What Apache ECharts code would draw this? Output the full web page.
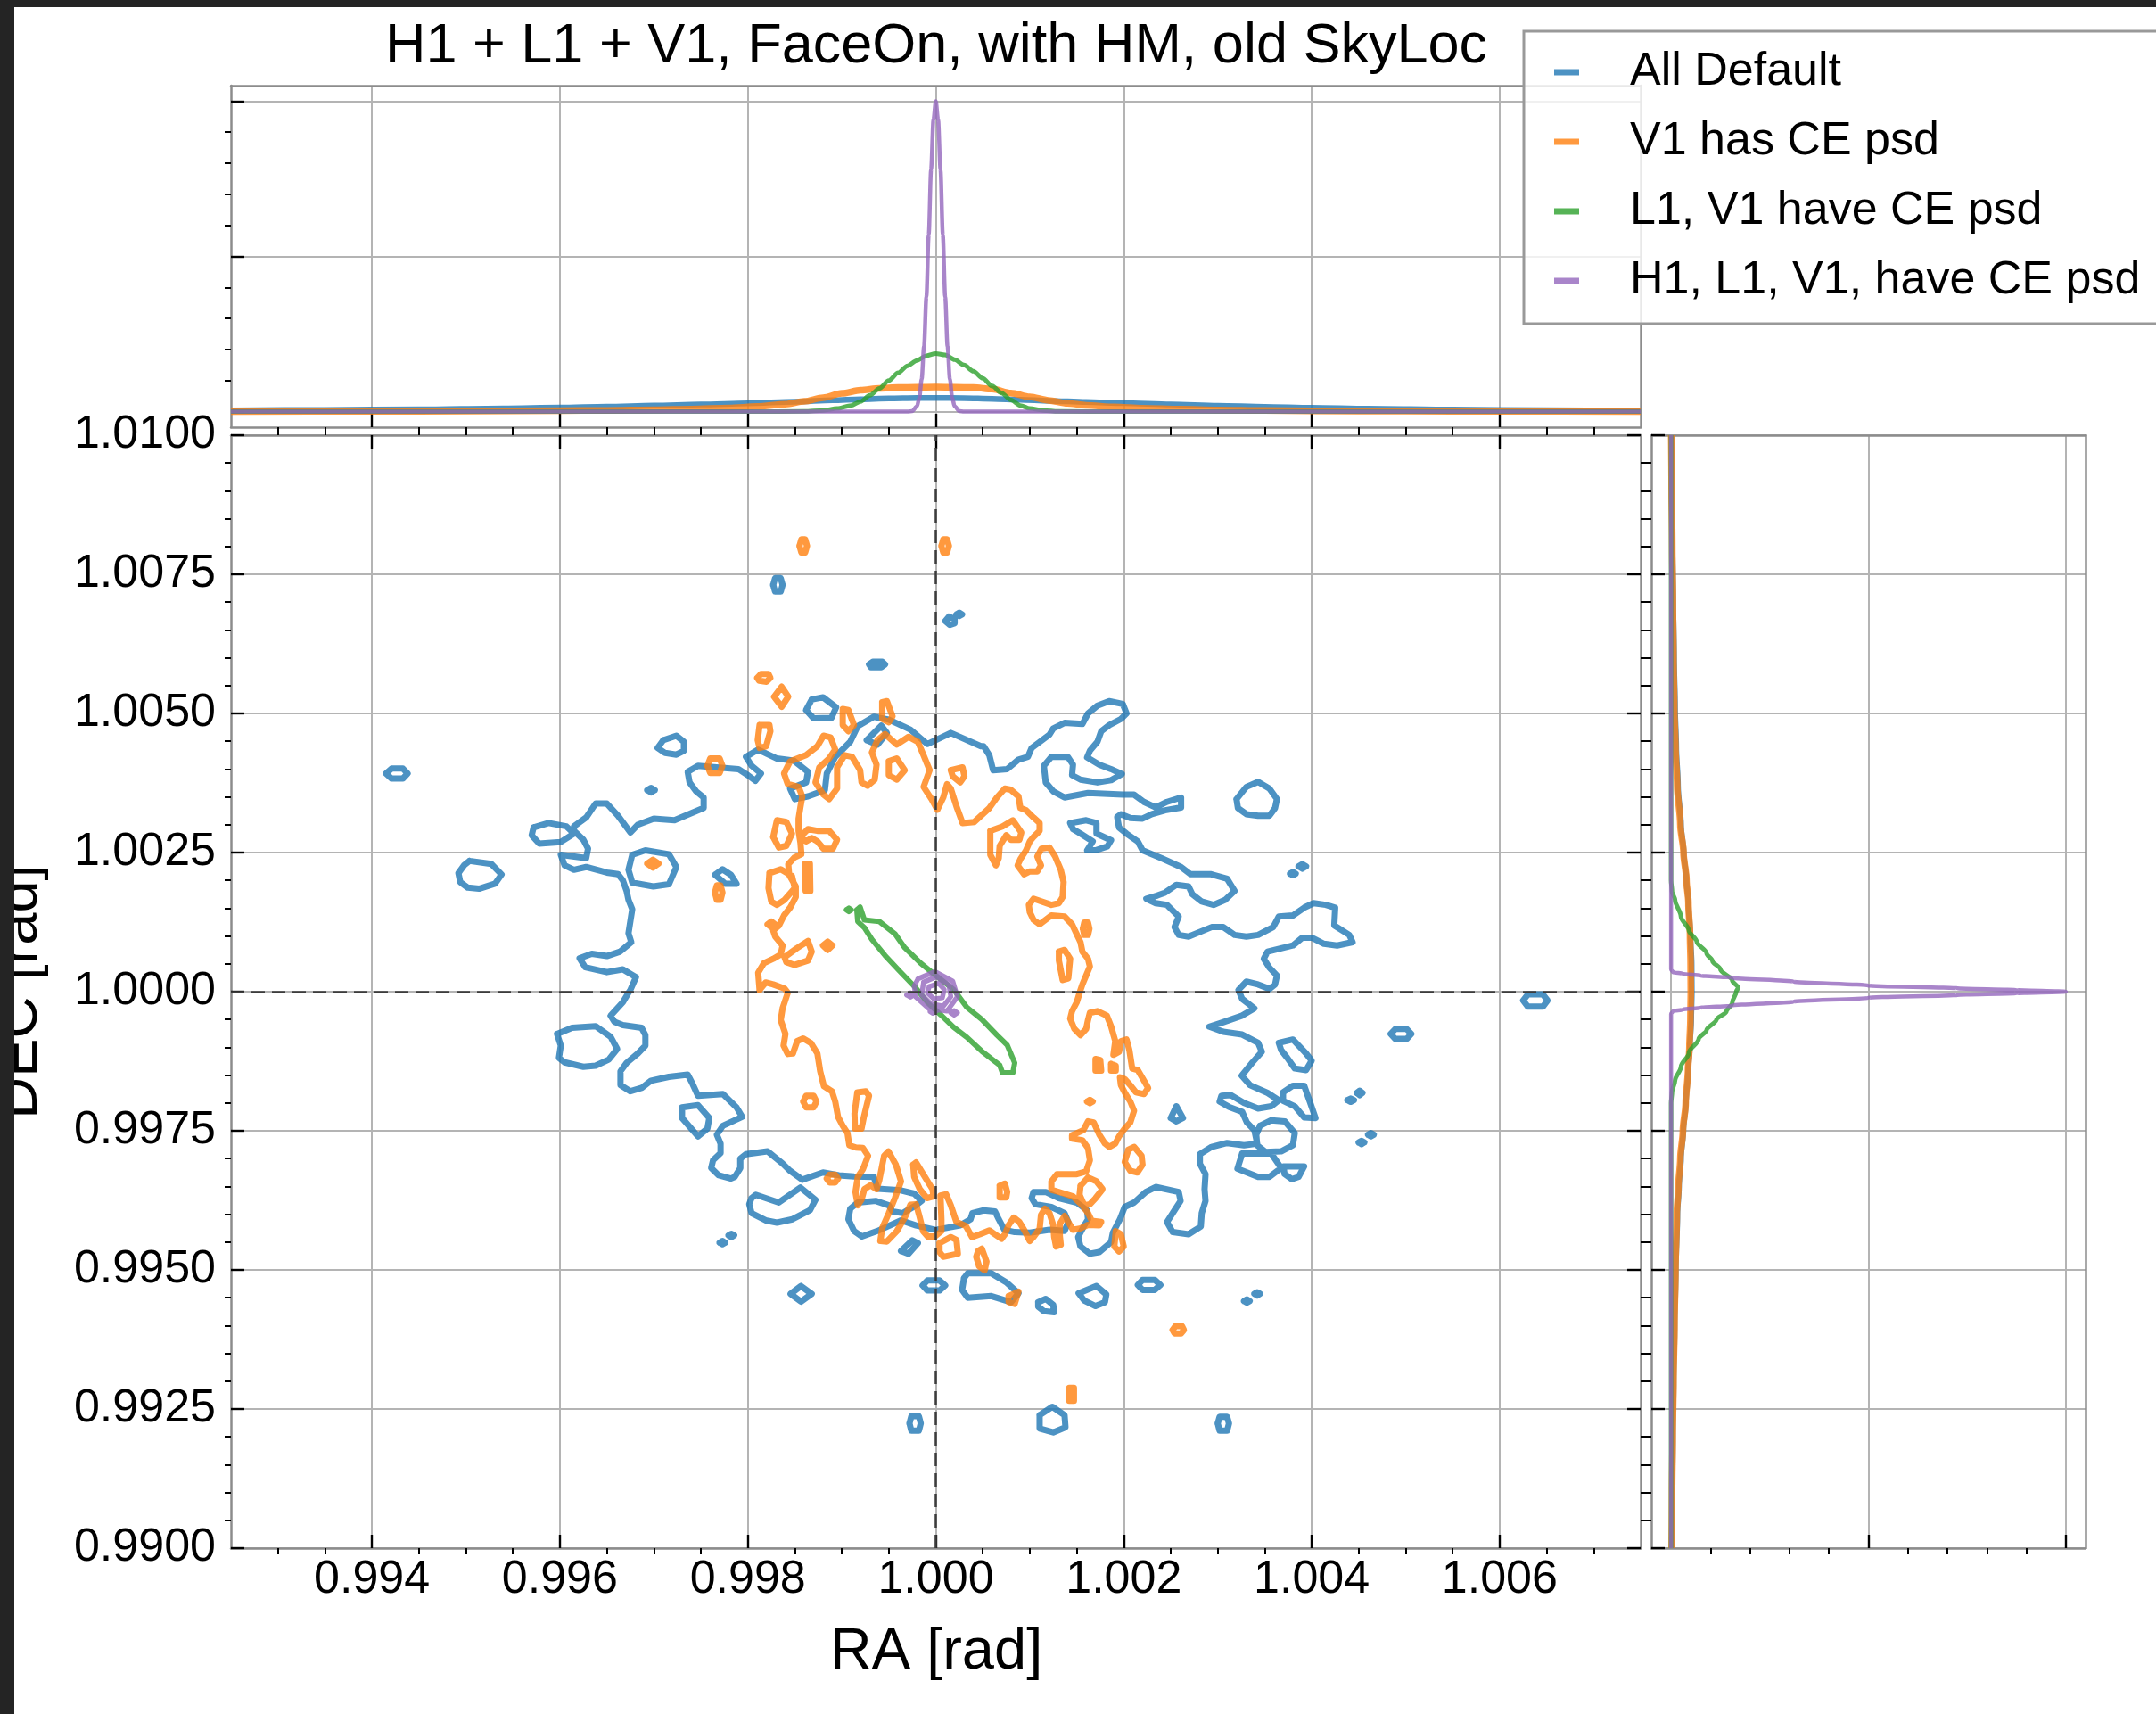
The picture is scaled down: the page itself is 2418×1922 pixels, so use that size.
<!DOCTYPE html>
<html>
<head>
<meta charset="utf-8">
<script src="https://cdn.jsdelivr.net/npm/echarts@6/dist/echarts.min.js"></script>
<style>
  html, body { margin: 0; padding: 0; background: #ffffff; }
  #chart { width: 2418px; height: 1922px; }
</style>
</head>
<body>
<div id="chart"></div>
<script>
// ---------------------------------------------------------------------------
// Sky-localisation posterior: RA/DEC 90% contours for four detector-network
// configurations, with the 1-D marginal densities above (RA) and to the right (DEC).
// ---------------------------------------------------------------------------

const TITLE = 'H1 + L1 + V1, FaceOn, with HM, old SkyLoc';
const SERIES_NAMES = ['All Default', 'V1 has CE psd', 'L1, V1 have CE psd', 'H1, L1, V1, have CE psd'];
const SERIES_COLORS = ['rgba(31,119,180,0.8)', 'rgba(255,127,14,0.8)', 'rgba(44,160,44,0.8)', 'rgba(148,103,189,0.8)'];

// axis ticks
const RA_TICKS = [0.994, 0.996, 0.998, 1.000, 1.002, 1.004, 1.006];
const DEC_TICKS = [0.9900, 0.9925, 0.9950, 0.9975, 1.0000, 1.0025, 1.0050, 1.0075, 1.0100];
const DENSITY_TICKS = [0, 1, 2];
const RA_RANGE = [0.9925, 1.0075];
const DEC_RANGE = [0.9900, 1.0100];
const DENSITY_RANGE = [-0.1, 2.1];

// injected sky position (rad)
const INJ_RA = 1.0;
const INJ_DEC = 1.0;
// contour / marginal coordinates below are offsets from the injection, in units of 1e-4 rad
const OFFSET_UNIT = 1e-4;

// ---- contours: "All Default" ------------------------------------------------
const BLUE_MAIN = [
  [-32.5,0.3],[-31.9,2.6],[-33.3,4.0],[-35.0,3.5],[-37.3,4.4],[-37.9,6.0],[-36.6,6.8],[-35.0,6.4],[-33.6,7.2],[-32.4,8.9],
  [-32.7,10.5],[-32.3,14.8],[-32.7,16.5],[-32.9,18.1],[-33.3,20.0],[-33.8,21.1],[-35.0,21.4],[-37.2,22.4],[-38.5,21.9],[-39.5,22.7],
  [-39.9,24.6],[-37.2,24.0],[-37.0,25.7],[-37.5,27.3],[-38.5,28.9],[-38.5,29.7],[-37.2,31.3],[-36.2,33.8],[-35.0,33.8],[-33.8,31.6],
  [-32.5,28.6],[-31.7,30.0],[-30.0,31.1],[-27.8,30.8],[-24.7,33.0],[-24.7,34.9],[-25.5,36.0],[-26.2,37.6],[-26.4,39.5],[-25.3,40.6],
  [-23.9,40.4],[-21.0,40.0],[-20.0,38.9],[-19.2,37.9],[-18.6,39.2],[-19.6,40.6],[-20.2,42.2],[-18.9,43.5],[-16.9,41.9],[-15.1,41.5],
  [-13.6,39.5],[-13.8,37.6],[-15.5,36.5],[-15.0,34.6],[-13.6,35.1],[-11.8,36.2],[-11.6,39.2],[-10.7,42.2],[-9.1,44.9],[-8.3,47.7],
  [-6.6,49.4],[-5.0,48.9],[-2.7,47.1],[-0.9,44.5],[1.6,46.5],[4.8,44.1],
  [5.1,44.1],[5.7,42.5],[6.1,39.8],[7.6,40.0],[8.8,41.7],[9.8,42.2],[10.2,43.8],[12.1,46.2],[12.5,47.3],[13.7,48.3],
  [15.6,48.1],[16.2,50.0],[17.2,51.4],[18.45,52.2],[19.9,51.7],[20.3,50.0],[19.7,49.0],[18.45,47.9],[17.6,46.8],[17.2,44.9],
  [16.4,43.3],[16.1,42.1],[17.4,40.8],[18.65,40.0],[19.8,39.1],[18.65,38.0],[17.2,37.6],[15.4,38.1],[14.5,38.9],[14.6,40.8],
  [14.05,42.2],[12.3,42.2],[11.5,40.6],[11.7,37.6],[12.5,36.0],[13.7,34.9],[16.2,35.7],[19.9,35.4],[21.1,35.4],[22.15,34.1],
  [23.4,33.1],[24.6,34.1],[26.1,34.9],[26.1,33.1],[24.4,32.6],[23.0,31.9],[22.0,31.1],[20.7,31.2],[19.7,31.9],[19.3,31.4],
  [19.5,29.5],[20.3,28.4],[21.5,27.0],[22.0,25.4],[24.0,24.0],[26.1,22.4],[27.1,21.1],[29.3,21.1],[31.0,20.3],[31.8,18.1],
  [30.8,16.5],[29.55,15.6],[28.3,16.2],[27.3,17.5],[26.9,18.9],[25.6,19.2],[24.4,17.8],[23.6,17.3],[22.4,16.7],[23.4,15.9],
  [24.6,15.6],[25.85,13.5],[25.4,11.6],[25.85,10.2],[26.9,9.9],[29.35,11.6],[30.6,11.6],[31.8,10.2],[33.05,9.9],[34.3,10.2],
  [35.9,11.6],[36.5,13.5],[38.0,13.7],[39.2,15.1],[40.2,15.9],[41.5,15.6],[42.5,15.1],[42.4,11.9],[44.0,10.2],[44.35,8.9],
  [42.7,8.3],[41.3,8.6],[40.0,9.7],[39.0,9.7],[38.0,8.3],[35.3,7.2],[34.9,5.9],[35.5,4.3],[36.3,2.9],[36.1,1.3],
  [35.5,0.5],[34.3,1.3],[33.05,1.8],[32.2,0.3],
  [32.6,-1.3],[33.9,-3.0],[32.6,-4.3],[30.2,-5.7],[29.1,-6.3],[30.6,-7.2],[32.6,-7.7],[34.3,-9.2],[34.7,-10.8],[33.7,-12.7],
  [32.55,-15.1],[33.45,-16.8],[35.3,-18.2],[36.5,-19.5],[35.7,-20.6],[34.3,-21.0],[32.8,-20.0],[31.4,-18.6],[30.4,-18.7],[30.2,-19.75],
  [31.2,-20.7],[32.6,-21.6],[33.1,-23.5],[33.9,-24.9],[34.2,-27.3],[32.8,-27.6],[31.0,-27.2],[29.35,-27.9],[28.1,-29.2],[28.1,-30.9],
  [28.7,-32.8],[28.6,-35.5],[28.7,-37.6],[28.3,-39.8],[28.2,-42.2],[26.9,-43.6],[25.2,-43.2],[24.6,-41.4],[25.4,-39.3],[26.05,-37.6],
  [25.85,-36.0],[23.4,-35.1],[22.35,-36.0],[21.1,-37.9],[20.1,-38.7],[19.6,-40.9],[18.85,-43.3],[18.65,-45.0],[17.4,-46.8],[16.4,-47.1],
  [15.4,-45.8],[15.15,-44.1],[15.8,-42.0],[16.2,-40.9],[16.1,-39.3],[15.0,-37.9],[13.1,-37.1],[11.7,-36.0],[10.4,-36.0],[10.2,-37.1],
  [10.6,-38.2],[12.3,-38.7],[13.7,-39.8],[14.1,-41.4],[13.7,-43.0],[12.1,-42.8],[10.0,-43.3],[8.4,-43.2],[7.3,-42.8],[6.7,-40.9],
  [6.3,-39.5],[5.1,-39.3],[3.9,-39.8],
  [3.7,-40.9],[2.6,-42.0],[-0.03,-42.8],[-2.1,-42.0],[-3.7,-41.1],[-6.2,-43.0],[-7.85,-44.0],[-8.7,-43.0],[-9.3,-40.9],[-9.1,-39.0],
  [-8.3,-37.9],[-6.4,-37.6],[-5.0,-38.4],[-4.6,-39.5],[-3.5,-39.8],[-2.1,-38.4],[-1.5,-37.6],[-2.3,-36.3],[-3.7,-35.7],[-6.2,-35.4],
  [-6.6,-33.3],[-8.7,-33.2],[-10.3,-33.0],[-12.0,-32.5],[-14.2,-33.8],[-15.5,-32.2],[-16.3,-30.9],[-17.9,-28.7],[-20.2,-29.2],[-20.8,-30.0],
  [-20.8,-31.7],[-21.4,-33.3],[-21.8,-33.6],[-23.1,-33.0],[-23.9,-31.7],[-23.7,-30.3],[-22.9,-29.0],[-22.9,-27.3],[-23.3,-25.7],[-22.65,-24.1],
  [-20.6,-22.5],[-21.2,-20.8],[-22.65,-18.4],[-25.3,-18.7],[-25.9,-16.5],[-26.4,-14.9],[-28.4,-15.3],[-30.3,-16.0],[-31.3,-17.3],[-32.5,-17.9],
  [-33.55,-16.8],[-33.55,-14.3],[-32.9,-12.8],[-31.7,-11.1],[-30.9,-9.7],[-30.9,-7.8],[-31.3,-6.5],[-33.3,-6.0],[-34.2,-5.4],[-34.6,-4.3],
  [-33.3,-1.9],[-32.7,-0.2]
];
const BLUE_ISLANDS = [
  [[-58.5,39.2],[-57.9,40.1],[-56.7,40.1],[-56.2,39.2],[-56.7,38.3],[-57.9,38.3]],
  [[-49.6,23.5],[-47.3,22.95],[-46.2,21.06],[-46.9,19.4],[-48.6,18.5],[-49.8,18.7],[-50.6,19.7],[-50.8,21.3],[-50.2,22.7]],
  [[-29.0,45.2],[-27.6,46.0],[-26.8,44.9],[-26.8,43.3],[-27.6,42.6],[-28.8,42.9],[-29.6,43.8]],
  [[-30.7,36.2],[-30.3,36.6],[-29.9,36.2],[-30.3,35.8]],
  [[-17.3,73.1],[-17.1,74.3],[-16.5,74.3],[-16.3,73.1],[-16.5,71.9],[-17.1,71.9]],
  [[1.0,66.6],[1.4,67.4],[2.0,67.0],[2.0,66.2],[1.5,65.9]],
  [[2.2,67.8],[2.5,68.1],[2.8,67.8],[2.5,67.5]],
  [[-7.1,58.8],[-6.7,59.3],[-5.7,59.3],[-5.4,58.8],[-5.8,58.3],[-6.9,58.3]],
  [[-13.2,52.5],[-12.0,52.9],[-10.6,51.1],[-11.1,49.2],[-13.0,49.1],[-13.8,50.6]],
  [[-7.35,45.2],[-5.8,47.8],[-5.2,46.5],[-6.2,44.4]],
  [[-23.5,21.0],[-22.7,22.0],[-21.8,21.0],[-21.2,19.4],[-22.4,19.4]],
  [[-42.8,29.5],[-41.2,30.3],[-39.3,29.7],[-38.5,28.4],[-39.9,26.9],[-42.2,26.6],[-43.0,28.1]],
  [[-32.3,24.6],[-30.9,25.4],[-28.4,24.7],[-27.6,22.4],[-28.4,19.3],[-30.05,18.9],[-32.3,19.6],[-32.7,21.9]],
  [[14.3,30.3],[16.0,30.8],[17.1,30.3],[17.1,28.4],[18.65,27.2],[18.25,26.1],[17.0,25.4],[16.1,25.4],[16.7,27.0],[15.4,28.4],[14.6,29.2]],
  [[32.0,34.6],[33.05,36.8],[34.3,37.7],[35.5,36.5],[36.3,34.6],[36.1,33.0],[35.5,31.6],[34.3,31.6],[33.05,31.9],[32.15,33.0]],
  [[38.6,22.5],[39.0,22.9],[39.4,22.5],[39.0,22.1]],
  [[37.7,21.2],[38.0,21.5],[38.3,21.2],[38.0,20.9]],
  [[36.5,-9.2],[38.0,-8.6],[39.4,-11.1],[40.0,-12.4],[39.4,-14.1],[38.2,-13.8],[37.4,-11.9],[36.75,-10.5]],
  [[36.95,-18.1],[38.0,-16.9],[39.2,-16.9],[39.8,-19.75],[40.4,-22.7],[39.2,-22.6],[38.2,-20.6],[36.95,-19.6]],
  [[34.5,-24.1],[35.7,-23.1],[37.15,-23.3],[38.2,-25.4],[38.0,-27.6],[36.75,-28.7],[35.1,-28.8],[34.2,-27.6],[34.1,-25.7]],
  [[32.6,-29.1],[35.7,-29.1],[36.75,-31.7],[35.5,-33.3],[34.3,-33.3],[32.1,-31.8]],
  [[37.0,-31.4],[39.2,-31.4],[38.6,-33.3],[37.9,-33.7],[37.1,-32.75]],
  [[25.6,-20.6],[26.3,-22.7],[25.6,-23.3],[25.0,-22.7]],
  [[48.4,-7.6],[48.9,-6.7],[50.1,-6.7],[50.6,-7.6],[50.1,-8.5],[48.9,-8.5]],
  [[62.5,-1.6],[63.0,-0.5],[64.6,-0.5],[65.1,-1.6],[64.6,-2.7],[63.0,-2.7]],
  [[44.8,-18.2],[45.1,-17.8],[45.4,-18.2],[45.1,-18.6]],
  [[43.8,-19.5],[44.15,-19.2],[44.5,-19.5],[44.15,-19.8]],
  [[46.0,-25.7],[46.3,-25.4],[46.6,-25.7],[46.3,-26.0]],
  [[45.0,-27.1],[45.3,-26.8],[45.6,-27.1],[45.3,-27.4]],
  [[21.5,-52.7],[22.0,-51.8],[23.3,-51.8],[23.9,-52.7],[23.3,-53.6],[22.0,-53.6]],
  [[15.2,-54.2],[17.1,-52.9],[18.15,-54.4],[18.0,-55.8],[17.0,-56.5],[15.8,-55.5]],
  [[10.9,-55.8],[11.7,-55.2],[12.5,-56.3],[12.6,-57.6],[11.5,-57.4],[10.9,-56.6]],
  [[33.9,-54.3],[34.2,-54.0],[34.5,-54.3],[34.2,-54.6]],
  [[32.8,-55.6],[33.1,-55.3],[33.4,-55.6],[33.1,-55.9]],
  [[11.05,-76.1],[12.4,-74.6],[13.7,-76.1],[13.8,-78.3],[12.5,-79.2],[11.05,-78.5]],
  [[30.0,-77.6],[30.2,-76.4],[31.0,-76.4],[31.2,-77.6],[31.0,-78.9],[30.2,-78.9]],
  [[3.0,-51.5],[3.4,-50.6],[5.9,-50.6],[7.55,-52.3],[8.8,-54.2],[8.0,-55.8],[5.9,-54.7],[3.4,-55.0],[2.8,-53.6]],
  [[-40.3,-7.6],[-38.7,-6.5],[-36.2,-6.2],[-34.6,-8.1],[-33.9,-10.3],[-34.8,-12.2],[-36.2,-13.3],[-37.5,-13.5],[-39.5,-12.7],[-40.1,-11.9],[-39.9,-9.7]],
  [[-27.0,-20.8],[-25.3,-20.4],[-24.1,-22.7],[-24.3,-24.6],[-25.3,-26.0],[-27.0,-22.7]],
  [[-19.6,-37.1],[-19.15,-36.5],[-16.7,-37.9],[-14.4,-35.2],[-12.8,-37.4],[-13.4,-39.3],[-15.25,-40.9],[-16.9,-41.5],[-18.1,-41.1],[-19.6,-39.8],[-19.85,-38.2]],
  [[-23.0,-45.1],[-22.7,-44.8],[-22.4,-45.1],[-22.7,-45.4]],
  [[-22.05,-43.8],[-21.75,-43.5],[-21.45,-43.8],[-21.75,-44.1]],
  [[-14.35,-52.9],[-13.2,-54.3],[-14.35,-55.7],[-15.45,-54.3]],
  [[-1.4,-52.8],[-0.9,-51.9],[0.4,-51.9],[1.0,-52.8],[0.4,-53.7],[-0.9,-53.7]],
  [[-2.8,-77.6],[-2.6,-76.3],[-1.8,-76.3],[-1.6,-77.6],[-1.8,-78.9],[-2.6,-78.9]],
  [[-3.7,-46.6],[-2.5,-44.7],[-1.9,-45.2],[-2.9,-47.1]]
];

// ---- contours: "V1 has CE psd" -------------------------------------------------
const ORANGE_MAIN = [
  [-18.75,0.3],[-18.9,3.4],[-18.3,5.1],[-17.3,5.9],[-16.5,6.7],[-16.3,8.3],[-17.1,9.95],[-17.3,11.0],[-16.7,11.85],[-16.15,13.7],
  [-15.5,15.1],[-14.9,17.0],[-14.9,18.9],[-15.6,21.0],[-15.7,22.9],[-15.05,24.1],[-14.3,24.7],[-14.4,26.75],[-14.6,28.9],[-14.6,31.1],
  [-14.4,33.2],[-14.2,35.1],[-14.6,36.8],[-15.75,37.3],[-16.15,39.2],[-15.5,41.4],[-13.8,42.5],[-12.6,44.1],[-11.95,46.0],[-11.2,45.7],
  [-10.7,43.5],[-11.35,41.9],[-12.4,40.3],[-12.8,37.6],[-11.95,35.4],[-11.35,34.6],[-10.5,36.5],[-10.5,40.3],[-9.7,42.5],[-8.9,42.2],
  [-8.05,39.8],[-7.9,37.6],[-7.25,37.0],[-6.5,38.1],[-6.3,40.8],[-6.8,43.0],[-6.2,45.2],[-5.4,46.3],[-4.15,44.4],[-2.9,45.8],
  [-1.9,44.9],[-1.3,42.5],[-0.65,39.8],[-1.3,36.8],[-0.45,34.6],[0.17,32.7],[0.8,34.9],[1.2,37.3],[1.6,36.5],[2.2,33.3],
  [2.85,30.3],[4.1,30.5],
  [5.7,33.0],[6.5,34.9],[7.35,36.5],[7.96,36.3],[8.8,35.1],[9.0,33.0],[9.6,32.6],[10.4,31.3],[11.05,30.3],[11.05,28.9],
  [10.4,27.8],[10.0,27.0],[9.6,25.4],[9.0,23.8],[8.7,22.7],[9.4,21.1],[10.0,21.6],[10.8,21.6],[11.2,22.7],[10.8,24.3],
  [11.25,25.7],[12.1,25.9],[12.7,24.3],[13.3,21.9],[13.6,19.7],[13.5,17.0],[13.1,15.9],[12.3,15.6],[10.4,16.7],[9.9,15.6],
  [10.0,14.3],[10.4,12.9],[11.05,12.1],[12.3,13.7],[13.7,13.5],[14.5,12.1],[14.95,10.5],[15.4,8.9],[15.6,7.2],[16.2,5.9],
  [16.4,4.5],[16.0,2.9],[15.6,1.3],[15.4,0.3],
  [15.0,-1.9],[14.5,-3.5],[14.3,-4.85],[14.75,-6.7],[15.4,-7.8],[16.0,-6.7],[16.2,-5.1],[16.4,-3.8],[17.2,-3.5],[18.2,-4.3],
  [18.65,-6.2],[19.1,-8.9],[18.9,-11.35],[19.5,-10.8],[19.7,-8.9],[20.3,-8.6],[20.6,-10.5],[20.9,-13.8],[21.5,-14.1],[22.15,-16.0],
  [22.6,-17.3],[22.15,-18.4],[21.3,-18.1],[20.7,-16.8],[20.1,-15.7],[19.6,-15.4],[19.7,-16.8],[20.2,-18.4],[20.7,-19.75],[21.1,-21.4],
  [20.7,-23.5],[20.1,-24.6],[19.5,-26.0],[19.1,-27.3],[18.45,-27.9],[18.0,-27.3],[17.4,-25.7],[16.8,-23.5],[16.2,-23.3],[15.7,-24.9],
  [14.5,-25.8],[14.5,-26.4],[15.6,-26.7],[16.2,-28.1],[16.4,-30.3],[16.0,-32.3],[15.0,-32.8],[12.9,-32.8],[12.3,-34.1],[12.3,-35.6],
  [13.3,-36.1],[14.6,-36.8],[15.6,-38.4],[16.2,-39.8],[16.6,-41.2],[17.6,-41.4],[17.4,-42.0],[16.2,-41.9],[15.3,-42.6],[14.6,-42.8],
  [14.1,-41.4],[13.7,-40.3],[13.2,-41.7],[13.2,-43.9],[13.3,-45.5],[12.8,-45.8],[12.6,-44.1],[12.5,-41.95],[12.1,-39.8],[11.6,-39.0],
  [11.2,-40.1],[11.05,-42.6],[10.4,-44.1],[10.0,-44.8],[9.4,-42.8],[8.9,-41.4],[8.3,-40.6],[7.75,-41.95],[7.35,-43.6],[7.0,-44.4],
  [6.3,-43.6],[5.7,-42.9],[4.7,-43.6],[3.85,-44.1],
  [3.2,-42.1],[2.2,-41.4],[1.6,-38.4],[1.1,-36.4],[0.5,-36.65],[0.6,-40.9],[0.6,-43.05],[-0.1,-44.0],[-0.85,-44.0],[-1.35,-43.05],
  [-1.75,-40.3],[-2.1,-38.2],[-2.7,-38.3],[-3.3,-40.6],[-4.15,-43.05],[-5.2,-44.9],[-5.9,-44.8],[-5.7,-42.5],[-5.0,-39.8],[-4.35,-37.1],
  [-3.7,-34.1],[-4.25,-31.1],[-5.05,-28.7],[-5.5,-29.5],[-6.0,-33.8],[-6.3,-35.5],[-6.95,-34.8],[-7.6,-35.5],[-7.9,-37.4],[-8.3,-38.4],
  [-8.55,-36.0],[-8.3,-33.3],[-7.75,-31.9],[-7.2,-29.5],[-7.75,-28.1],[-8.5,-28.0],[-9.2,-27.6],[-9.4,-25.4],[-9.9,-24.1],[-10.4,-22.5],
  [-10.7,-19.75],[-11.05,-17.9],[-11.9,-17.0],[-12.3,-14.3],[-12.6,-11.1],[-13.3,-9.2],[-14.1,-8.4],[-14.75,-8.9],[-15.2,-11.1],[-15.75,-11.2],
  [-16.2,-9.7],[-16.0,-7.6],[-16.5,-5.1],[-16.3,-3.0],[-15.75,-0.2],[-16.1,0.57],[-17.3,1.3],[-18.1,1.65]
];
const ORANGE_ISLANDS = [
  [[-14.5,80.1],[-14.3,81.3],[-13.9,81.3],[-13.7,80.1],[-13.9,78.9],[-14.3,78.9]],
  [[0.6,80.1],[0.8,81.3],[1.2,81.3],[1.4,80.1],[1.2,78.9],[0.8,78.9]],
  [[-19.0,56.4],[-18.6,57.1],[-17.8,57.1],[-17.6,56.4],[-18.0,55.7],[-18.8,55.9]],
  [[-17.2,53.0],[-16.4,54.8],[-15.7,53.0],[-16.4,51.2]],
  [[-9.9,50.8],[-9.3,50.6],[-8.7,47.9],[-9.3,46.8],[-9.9,47.9]],
  [[-5.7,52.0],[-5.2,52.2],[-4.6,49.5],[-5.0,48.4],[-5.7,49.0]],
  [[-18.75,47.9],[-17.7,47.9],[-17.6,46.8],[-18.05,44.1],[-18.75,43.8],[-18.95,45.2]],
  [[-24.3,40.6],[-24.0,41.9],[-23.0,41.9],[-22.7,40.6],[-23.0,39.3],[-24.0,39.3]],
  [[-5.0,41.4],[-4.15,41.9],[-3.3,39.8],[-4.15,38.1],[-5.0,38.9]],
  [[1.6,39.8],[2.85,40.3],[3.05,38.7],[2.6,37.6],[1.8,38.7]],
  [[-17.3,27.8],[-16.9,30.8],[-15.9,30.5],[-15.3,28.4],[-15.9,26.2],[-16.7,25.9]],
  [[-14.4,27.8],[-13.6,29.2],[-12.6,28.9],[-11.35,28.9],[-10.5,27.3],[-10.95,25.7],[-11.95,25.7],[-12.6,27.0],[-13.2,27.6],[-13.8,27.0]],
  [[-30.7,23.0],[-30.1,23.7],[-29.5,23.0],[-30.1,22.3]],
  [[-23.5,17.8],[-23.3,19.1],[-22.9,19.1],[-22.7,17.8],[-22.9,16.5],[-23.3,16.5]],
  [[-17.9,12.1],[-17.5,12.6],[-17.1,12.1],[-17.5,11.6]],
  [[-13.9,23.0],[-13.4,23.0],[-13.35,18.1],[-13.85,18.1]],
  [[-17.7,21.3],[-16.5,22.0],[-15.3,20.8],[-15.0,18.6],[-16.1,16.5],[-16.9,15.6],[-17.5,16.2],[-17.8,18.6]],
  [[-16.1,6.2],[-14.8,7.8],[-13.6,9.1],[-13.2,7.2],[-13.6,5.6],[-15.05,4.8],[-15.9,5.3]],
  [[-12.0,8.3],[-11.5,9.0],[-11.0,8.3],[-11.5,7.5]],
  [[5.8,28.9],[7.1,29.7],[8.2,30.8],[9.1,28.6],[8.9,27.3],[8.0,27.3],[7.5,28.1],[6.8,26.2],[6.7,24.0],[6.4,22.7],[5.8,24.6]],
  [[15.65,11.3],[15.8,12.4],[16.2,12.4],[16.35,11.3],[16.2,10.2],[15.8,10.2]],
  [[13.1,7.2],[13.7,7.5],[14.3,5.9],[14.1,2.4],[13.5,2.1],[13.1,5.6]],
  [[19.15,-43.05],[19.7,-43.6],[20.0,-45.8],[19.5,-46.7],[19.0,-45.8]],
  [[4.5,-46.6],[4.9,-46.2],[5.4,-48.5],[5.2,-50.1],[4.6,-49.3],[4.3,-47.65]],
  [[6.8,-34.9],[7.35,-34.5],[7.6,-36.0],[7.5,-36.98],[6.8,-36.98]],
  [[17.0,-12.1],[17.5,-12.3],[17.6,-14.2],[17.0,-14.2]],
  [[18.65,-13.0],[19.15,-13.3],[19.15,-14.2],[18.65,-14.2]],
  [[16.1,-19.75],[16.4,-19.45],[16.7,-19.75],[16.4,-20.05]],
  [[20.5,-28.4],[21.1,-27.9],[21.9,-29.5],[22.0,-31.1],[21.45,-32.5],[20.7,-32.2],[20.1,-30.6]],
  [[15.4,-34.9],[16.2,-33.4],[17.1,-34.1],[17.75,-35.5],[17.0,-37.1],[16.4,-38.2],[15.8,-38.4],[15.3,-36.5]],
  [[25.2,-60.8],[25.5,-60.1],[26.2,-60.1],[26.4,-60.8],[26.1,-61.4],[25.4,-61.4]],
  [[14.2,-71.2],[14.7,-71.2],[14.7,-73.5],[14.2,-73.5]],
  [[7.75,-54.7],[8.8,-53.9],[8.4,-56.1],[7.75,-55.8]],
  [[-14.1,-19.75],[-13.8,-18.7],[-13.0,-18.7],[-12.7,-19.75],[-13.0,-20.8],[-13.8,-20.8]],
  [[-11.6,-33.6],[-11.3,-32.9],[-10.7,-32.9],[-10.4,-33.6],[-10.7,-34.3],[-11.3,-34.3]],
  [[-8.35,-18.1],[-7.45,-17.9],[-7.1,-18.7],[-7.65,-22.5],[-7.9,-24.6],[-8.6,-24.6],[-8.65,-21.9]],
  [[-2.4,-31.1],[-2.1,-30.7],[-1.05,-33.6],[-0.35,-35.5],[-0.24,-36.8],[-0.94,-37.1],[-1.7,-35.5],[-2.3,-33.3]],
  [[0.4,-45.2],[1.6,-44.1],[2.2,-44.6],[2.35,-47.1],[0.8,-47.65],[0.4,-46.8]]
];

// ---- contours: "L1, V1 have CE psd" --------------------------------------------
const GREEN_LOOPS = [
  [[-8.4,14.7],[-8.05,15.2],[-7.6,12.9],[-6.0,12.6],[-4.35,10.4],[-3.3,7.9],[-1.6,5.1],[0.0,2.9],[1.9,0.4],[3.3,-2.8],
   [4.9,-5.0],[6.5,-7.8],[7.6,-9.6],[8.4,-12.8],[8.2,-14.6],[7.1,-14.6],[6.8,-13.2],[4.9,-10.7],[3.3,-8.2],[1.9,-6.4],
   [0.55,-4.2],[-0.8,-2.1],[-2.2,0.8],[-3.8,3.6],[-5.4,6.5],[-6.8,9.4],[-7.6,11.5],[-8.3,12.6]],
  [[-9.5,14.7],[-9.25,15.0],[-9.0,14.7],[-9.25,14.4]]
];

// ---- contours: "H1, L1, V1, have CE psd" ---------------------------------------
const PURPLE_LOOPS = [
  [[-1.9,2.3],[-0.1,3.6],[1.8,1.9],[2.3,-0.9],[1.2,-3.5],[-0.7,-3.1],[-2.1,-1.0],[-2.3,1.0]],
  [[-1.3,1.7],[0.1,2.7],[1.4,1.2],[1.6,-0.9],[0.8,-2.6],[-0.5,-2.2],[-1.5,-0.6]],
  [[-0.7,0.9],[0.3,1.5],[0.9,0.4],[0.7,-1.1],[-0.2,-1.3],[-0.9,-0.2]],
  [[-3.1,-0.6],[-2.7,-0.2],[-2.3,-0.6],[-2.7,-1.0]],
  [[1.6,-3.8],[1.95,-3.4],[2.3,-3.8],[1.95,-4.2]],
  [[-0.6,-3.6],[-0.3,-3.3],[0.0,-3.6],[-0.3,-3.9]]
];

// ---- RA marginal densities: [RA offset, density] --------------------------------
const BLUE_RA = [[-75,0.008],[-65,0.011],[-55,0.015],[-46,0.021],[-40,0.026],[-35,0.032],[-30,0.039],[-25,0.046],[-20,0.054],[-15,0.064],
  [-11,0.074],[-8,0.080],[-5,0.085],[-2,0.088],[0,0.088],[3,0.087],[6,0.083],[9,0.077],[12,0.070],[16,0.062],
  [20,0.055],[25,0.046],[30,0.038],[35,0.031],[40,0.025],[46,0.019],[55,0.013],[65,0.009],[75,0.006]];
const ORANGE_RA = [[-75,0.001],[-60,0.002],[-50,0.003],[-40,0.006],[-35,0.008],[-30,0.012],[-26,0.017],[-22,0.024],[-19,0.033],[-16,0.048],
  [-14,0.066],[-12,0.090],[-10,0.118],[-8,0.138],[-6,0.150],[-4,0.155],[-2,0.157],[0,0.158],[2,0.157],[4,0.155],
  [6,0.145],[8,0.120],[10,0.095],[12,0.073],[14,0.054],[16,0.041],[19,0.030],[22,0.022],[26,0.016],[30,0.011],
  [35,0.007],[40,0.005],[50,0.003],[60,0.002],[75,0.001]];
const GREEN_RA = [[-75,0],[-20,0],[-14,0.002],[-12,0.008],[-10.5,0.02],[-9,0.04],[-8,0.065],[-7,0.105],[-6,0.15],[-5,0.2],
  [-4,0.25],[-3,0.295],[-2,0.33],[-1,0.36],[0,0.374],[1,0.365],[2,0.335],[3,0.3],[4,0.26],[5,0.215],
  [6,0.165],[7,0.12],[8,0.075],[9,0.04],[10,0.02],[11.5,0.008],[13,0.002],[20,0],[75,0]];
const PURPLE_RA = [[-75,0],[-3,0],[-2.5,0.004],[-2,0.035],[-1.75,0.09],[-1.5,0.21],[-1.25,0.42],[-1,0.74],[-0.75,1.14],[-0.5,1.56],
  [-0.25,1.88],[0,2.0],[0.25,1.88],[0.5,1.56],[0.75,1.14],[1,0.74],[1.25,0.42],[1.5,0.21],[1.75,0.09],[2,0.035],
  [2.5,0.004],[3,0],[75,0]];

// ---- DEC marginal densities: [DEC offset, density] ------------------------------
const BLUE_DEC = [[-100,0.004],[-90,0.006],[-80,0.009],[-70,0.013],[-60,0.018],[-50,0.024],[-40,0.032],[-35,0.040],[-30,0.050],[-25,0.062],
  [-20,0.075],[-14,0.087],[-10,0.095],[-5,0.102],[0,0.105],[5,0.104],[10,0.098],[16,0.088],[20,0.078],[25,0.064],
  [30,0.050],[37,0.035],[44,0.026],[51,0.020],[60,0.015],[70,0.011],[80,0.007],[90,0.004],[100,0.002]];
const ORANGE_DEC = [[-100,0.003],[-90,0.005],[-80,0.008],[-70,0.012],[-60,0.017],[-50,0.022],[-40,0.029],[-35,0.037],[-30,0.047],[-25,0.060],
  [-20,0.074],[-14,0.086],[-10,0.093],[-5,0.098],[0,0.100],[5,0.099],[10,0.096],[16,0.088],[20,0.078],[25,0.063],
  [30,0.047],[37,0.031],[44,0.022],[51,0.016],[60,0.012],[70,0.009],[80,0.006],[90,0.003],[100,0.001]];
const GREEN_DEC = [[-100,0],[-20,0],[-18,0.005],[-16,0.02],[-13.5,0.05],[-11,0.09],[-8.5,0.14],[-6.9,0.18],[-5,0.23],[-3.6,0.28],
  [-2,0.31],[0,0.33],[0.7,0.34],[2,0.31],[4,0.25],[5.5,0.21],[6.9,0.18],[9,0.13],[11,0.09],[13.5,0.05],
  [16.5,0.02],[18,0.005],[20,0],[100,0]];
const PURPLE_DEC = [[-100,0],[-4,0],[-3.5,0.01],[-3.2,0.06],[-2.9,0.15],[-2.5,0.31],[-1.8,0.62],[-1.1,1.0],[-0.6,1.45],[-0.3,1.75],
  [0,2.0],[0.3,1.75],[0.6,1.45],[1.1,1.0],[1.8,0.62],[2.5,0.31],[2.9,0.15],[3.2,0.06],[3.5,0.01],[4,0],[100,0]];

// ---------------------------------------------------------------------------
const FONT = '"Liberation Sans", Arial, Helvetica, sans-serif';
const SPINE = { color: '#8c8c8c', width: 2.5 };
const GRIDLINE = { color: '#b4b4b4', width: 2 };

const raOf = o => INJ_RA + o * OFFSET_UNIT;
const decOf = o => INJ_DEC + o * OFFSET_UNIT;

// minor tick positions: every `step` between lo and hi, skipping the major ticks
function minorTicks(lo, hi, step, majors) {
  const out = [];
  const n = Math.round((hi - lo) / step);
  for (let i = 0; i <= n; i++) {
    const v = +(lo + i * step).toFixed(6);
    if (!majors.some(m => Math.abs(m - v) < step / 10)) out.push(v);
  }
  return out;
}
const RA_MINOR = minorTicks(0.9930, 1.0070, 0.0005, RA_TICKS);
const DEC_MINOR = minorTicks(0.9905, 1.0095, 0.0005, DEC_TICKS);
const DENSITY_MINOR = minorTicks(0.2, 2.0, 0.2, DENSITY_TICKS);

// closed polylines, separated by gaps, in axis units
function contourData(loops) {
  const out = [];
  loops.forEach(loop => {
    loop.forEach(p => out.push([raOf(p[0]), decOf(p[1])]));
    out.push([raOf(loop[0][0]), decOf(loop[0][1])]);
    out.push(['-', '-']);
  });
  return out;
}

// one axis of a panel: 'frame' (spine only), 'major' (spine + inward ticks) or 'minor' (outward ticks)
function panelAxis(kind, grid, position, range, ticks, extra) {
  const a = {
    type: 'value', gridIndex: grid, position: position, min: range[0], max: range[1],
    axisLine: { show: kind !== 'minor', onZero: false, lineStyle: SPINE },
    axisTick: { show: false },
    axisLabel: { show: false },
    splitLine: { show: false },
    minorTick: { show: false },
    minorSplitLine: { show: false }
  };
  if (kind === 'major') {
    a.axisTick = { show: true, inside: true, length: 15, customValues: ticks, lineStyle: { color: '#000', width: 2.4 } };
  } else if (kind === 'minor') {
    a.axisTick = { show: true, inside: false, length: 7, customValues: ticks, lineStyle: { color: '#000', width: 2 } };
  }
  return Object.assign(a, extra || {});
}
const withGrid = { splitLine: { show: true, lineStyle: GRIDLINE } };

const tickLabel = (values, fmt, margin) => ({
  show: true, customValues: values, formatter: fmt, margin: margin,
  fontSize: 52, color: '#000', fontFamily: FONT
});

// grids: 0 = joint RA/DEC, 1 = RA marginal (top), 2 = DEC marginal (right)
const grids = [
  { left: 259, top: 488, width: 1581, height: 1248 },
  { left: 259, top: 96, width: 1581, height: 383 },
  { left: 1852, top: 488, width: 487, height: 1248 }
];

const xAxes = [
  panelAxis('major', 0, 'bottom', RA_RANGE, RA_TICKS, Object.assign({
    axisLabel: tickLabel(RA_TICKS, v => v.toFixed(3), 10)
  }, withGrid)),                                                     // 0
  panelAxis('minor', 0, 'bottom', RA_RANGE, RA_MINOR),               // 1
  panelAxis('major', 0, 'top', RA_RANGE, RA_TICKS),                  // 2
  panelAxis('minor', 0, 'top', RA_RANGE, RA_MINOR),                  // 3
  panelAxis('major', 1, 'bottom', RA_RANGE, RA_TICKS, withGrid),     // 4
  panelAxis('minor', 1, 'bottom', RA_RANGE, RA_MINOR),               // 5
  panelAxis('frame', 1, 'top', RA_RANGE),                            // 6
  panelAxis('major', 2, 'bottom', DENSITY_RANGE, DENSITY_TICKS, withGrid), // 7
  panelAxis('minor', 2, 'bottom', DENSITY_RANGE, DENSITY_MINOR),     // 8
  panelAxis('frame', 2, 'top', DENSITY_RANGE)                        // 9
];
const yAxes = [
  panelAxis('major', 0, 'left', DEC_RANGE, DEC_TICKS, Object.assign({
    axisLabel: tickLabel(DEC_TICKS, v => v.toFixed(4), 17)
  }, withGrid)),                                                     // 0
  panelAxis('minor', 0, 'left', DEC_RANGE, DEC_MINOR),               // 1
  panelAxis('major', 0, 'right', DEC_RANGE, DEC_TICKS),              // 2
  panelAxis('minor', 0, 'right', DEC_RANGE, DEC_MINOR),              // 3
  panelAxis('major', 1, 'left', DENSITY_RANGE, DENSITY_TICKS, withGrid), // 4
  panelAxis('minor', 1, 'left', DENSITY_RANGE, DENSITY_MINOR),       // 5
  panelAxis('frame', 1, 'right', DENSITY_RANGE),                     // 6
  panelAxis('major', 2, 'left', DEC_RANGE, DEC_TICKS, withGrid),     // 7
  panelAxis('minor', 2, 'left', DEC_RANGE, DEC_MINOR),               // 8
  panelAxis('frame', 2, 'right', DEC_RANGE)                          // 9
];

function contourSeries(idx, loops, width, extra) {
  return Object.assign({
    type: 'line', name: SERIES_NAMES[idx], xAxisIndex: 0, yAxisIndex: 0,
    data: contourData(loops), showSymbol: false, symbol: 'none', connectNulls: false,
    color: SERIES_COLORS[idx], itemStyle: { color: SERIES_COLORS[idx] },
    lineStyle: { color: SERIES_COLORS[idx], width: width, join: 'round', cap: 'round' },
    emphasis: { disabled: true }, silent: true, animation: false
  }, extra || {});
}
function raMarginSeries(idx, rows, width) {
  return {
    type: 'line', name: SERIES_NAMES[idx], xAxisIndex: 4, yAxisIndex: 4,
    data: rows.map(r => [raOf(r[0]), r[1]]), showSymbol: false, symbol: 'none',
    smooth: 0.3, smoothMonotone: 'x',
    color: SERIES_COLORS[idx], itemStyle: { color: SERIES_COLORS[idx] },
    lineStyle: { color: SERIES_COLORS[idx], width: width, join: 'round' },
    emphasis: { disabled: true }, silent: true, animation: false
  };
}
function decMarginSeries(idx, rows, width) {
  return {
    type: 'line', name: SERIES_NAMES[idx], xAxisIndex: 7, yAxisIndex: 7,
    data: rows.map(r => [r[1], decOf(r[0])]), showSymbol: false, symbol: 'none',
    smooth: 0.3, smoothMonotone: 'y',
    color: SERIES_COLORS[idx], itemStyle: { color: SERIES_COLORS[idx] },
    lineStyle: { color: SERIES_COLORS[idx], width: width, join: 'round' },
    emphasis: { disabled: true }, silent: true, animation: false
  };
}

const series = [
  contourSeries(0, [BLUE_MAIN].concat(BLUE_ISLANDS), 7),
  contourSeries(1, [ORANGE_MAIN].concat(ORANGE_ISLANDS), 7),
  contourSeries(2, GREEN_LOOPS, 6),
  contourSeries(3, PURPLE_LOOPS, 5.5, {
    // dashed cross-hair at the injected position
    markLine: {
      silent: true, symbol: 'none', animation: false,
      label: { show: false },
      lineStyle: { color: '#3c3c3c', width: 2.5, type: [15, 8] },
      data: [{ xAxis: INJ_RA }, { yAxis: INJ_DEC }]
    }
  }),
  raMarginSeries(0, BLUE_RA, 6.5),
  raMarginSeries(1, ORANGE_RA, 7.5),
  raMarginSeries(2, GREEN_RA, 5),
  raMarginSeries(3, PURPLE_RA, 4.5),
  decMarginSeries(0, BLUE_DEC, 6.5),
  decMarginSeries(1, ORANGE_DEC, 7.5),
  decMarginSeries(2, GREEN_DEC, 5),
  decMarginSeries(3, PURPLE_DEC, 4.5)
];

const chart = echarts.init(document.getElementById('chart'), null, { renderer: 'canvas', devicePixelRatio: 1 });
chart.setOption({
  animation: false,
  backgroundColor: '#ffffff',
  grid: grids,
  xAxis: xAxes,
  yAxis: yAxes,
  series: series,
  legend: {
    orient: 'vertical', left: 1709, top: 35, selectedMode: false,
    data: SERIES_NAMES.map((n, i) => ({ name: n, icon: 'rect', itemStyle: { color: SERIES_COLORS[i] } })),
    itemWidth: 28, itemHeight: 7, itemGap: 26,
    padding: [20, 40, 22, 34],
    backgroundColor: 'rgba(255,255,255,0.8)', borderColor: '#999999', borderWidth: 3, borderRadius: 0,
    textStyle: { fontSize: 52, lineHeight: 52, fontFamily: FONT, color: '#000', padding: [0, 0, 0, 52] }
  },
  graphic: [
    { type: 'text', x: 1050, y: 21, z: 10, silent: true,
      style: { text: TITLE, fontSize: 63, fontFamily: FONT, fill: '#000', align: 'center', verticalAlign: 'top', textAlign: 'center', textVerticalAlign: 'top' } },
    { type: 'text', x: 1050, y: 1821, z: 10, silent: true,
      style: { text: 'RA [rad]', fontSize: 65, fontFamily: FONT, fill: '#000', align: 'center', verticalAlign: 'top', textAlign: 'center', textVerticalAlign: 'top' } },
    { type: 'text', x: 23, y: 1112, rotation: Math.PI / 2, z: 10, silent: true,
      style: { text: 'DEC [rad]', fontSize: 65, fontFamily: FONT, fill: '#000', align: 'center', verticalAlign: 'middle', textAlign: 'center', textVerticalAlign: 'middle' } },
    // window frame around the figure
    { type: 'rect', x: 0, y: 0, z: 100, silent: true, shape: { width: 16, height: 1922 }, style: { fill: '#242424' } },
    { type: 'rect', x: 0, y: 0, z: 100, silent: true, shape: { width: 2418, height: 8 }, style: { fill: '#242424' } }
  ]
});
</script>
</body>
</html>
